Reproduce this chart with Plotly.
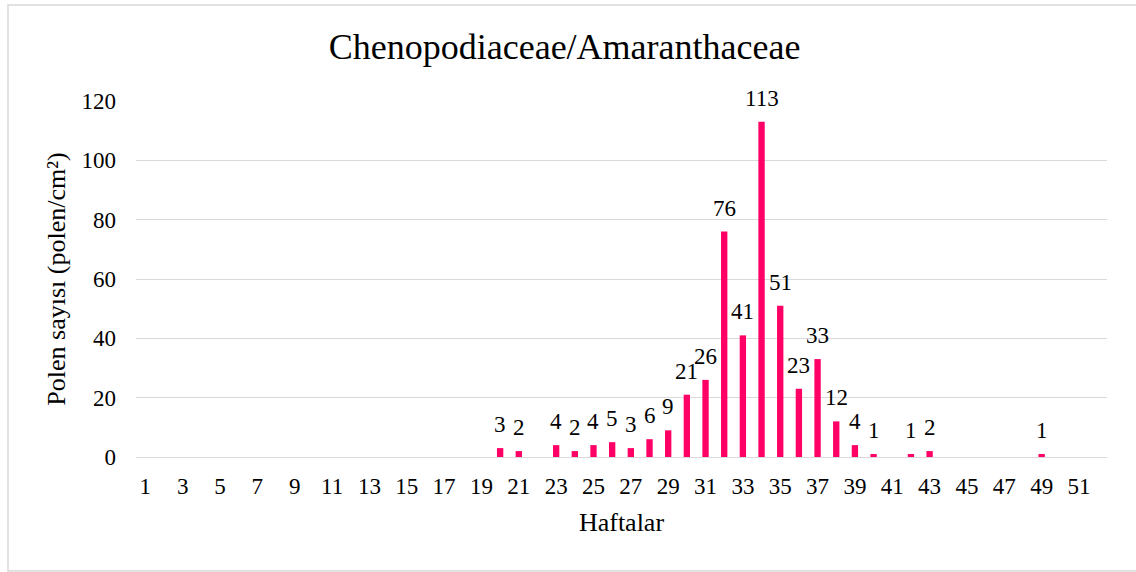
import plotly.graph_objects as go

weeks = list(range(1, 53))
counts = [0, 0, 0, 0, 0, 0, 0, 0, 0, 0,
          0, 0, 0, 0, 0, 0, 0, 0, 0, 3,
          2, 0, 4, 2, 4, 5, 3, 6, 9, 21,
          26, 76, 41, 113, 51, 23, 33, 12, 4, 1,
          0, 1, 2, 0, 0, 0, 0, 0, 1, 0,
          0, 0]
x_tick_labels = [str(w) for w in range(1, 52, 2)]
y_ticks = [0, 20, 40, 60, 80, 100, 120]

title_text = "Chenopodiaceae/Amaranthaceae"
x_title = "Haftalar"
y_title = "Polen sayısı (polen/cm²)"

FONT = "Liberation Serif, Times New Roman, serif"
BAR_COLOR = "#FF0066"
GRID = "#D9D9D9"

W, H = 1136, 572
L, R, T, B = 136, 29, 101, 115

fig = go.Figure()
fig.add_trace(go.Bar(
    x=weeks, y=counts, marker_color=BAR_COLOR, marker_line_width=0,
    hoverinfo="x+y",
))

annotations = []
for w, c in zip(weeks, counts):
    if c:
        annotations.append(dict(
            x=w, y=c, xref="x", yref="y", text=str(c), showarrow=False,
            yanchor="bottom", xanchor="center", yshift=9,
            font=dict(family=FONT, size=23, color="#000000"),
        ))

pw = W - L - R
ph = H - T - B
fig.add_shape(type="rect", xref="paper", yref="paper",
              x0=(8 - L) / pw, x1=(1140 - L) / pw,
              y0=(H - B - 571) / ph, y1=(H - B - 5) / ph,
              line=dict(color="#D9D9D9", width=1.5), fillcolor="rgba(0,0,0,0)",
              layer="below")

fig.update_layout(
    width=W, height=H,
    margin=dict(l=L, r=R, t=T, b=B, autoexpand=False),
    paper_bgcolor="white", plot_bgcolor="white",
    bargap=0.66,
    showlegend=False,
    font=dict(family=FONT, color="#000000"),
    title=dict(text=title_text, x=0.497, xref="container", xanchor="center",
               y=1 - 46 / H, yref="container", yanchor="middle",
               font=dict(family=FONT, size=36, color="#000000")),
    annotations=annotations,
    xaxis=dict(
        range=[0.5, 52.5], tickmode="array",
        tickvals=[int(t) for t in x_tick_labels], ticktext=x_tick_labels,
        showgrid=False, zeroline=False, showline=True, linecolor=GRID, linewidth=1,
        ticks="", ticklabelstandoff=8,
        tickfont=dict(family=FONT, size=23, color="#000000"),
        title=dict(text=x_title, font=dict(family=FONT, size=26, color="#000000"),
                   standoff=15),
        fixedrange=True,
    ),
    yaxis=dict(
        range=[0, 120], tickmode="array", tickvals=y_ticks,
        showgrid=True, gridcolor=GRID, gridwidth=1,
        zeroline=False, showline=False, ticks="", ticklabelstandoff=19,
        tickfont=dict(family=FONT, size=23, color="#000000"),
        title=dict(text=y_title, font=dict(family=FONT, size=26, color="#000000"),
                   standoff=8),
        fixedrange=True,
    ),
)

fig.write_html("out.html", config={"displayModeBar": False},
               post_script="document.body.style.margin='0';")
